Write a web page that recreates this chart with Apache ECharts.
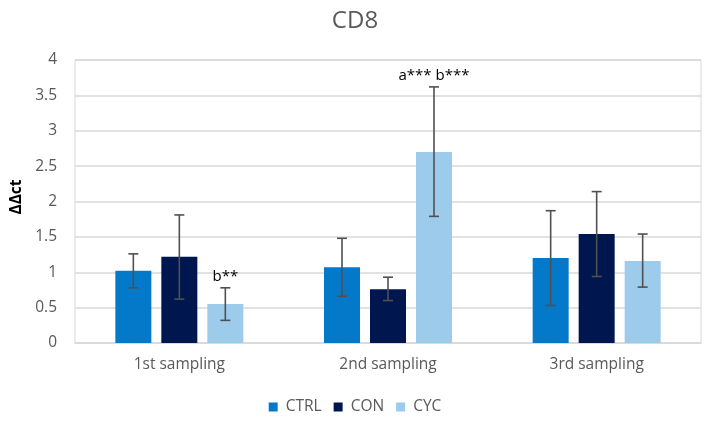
<!DOCTYPE html>
<html>
<head>
<meta charset="utf-8">
<script src="https://cdn.jsdelivr.net/npm/echarts@6/dist/echarts.min.js"></script>
<style>
  html, body { margin: 0; padding: 0; background: #fff; }
  #chart { width: 710px; height: 424px; }
</style>
</head>
<body>
<div id="chart"></div>
<script>
const categories = ['1st sampling', '2nd sampling', '3rd sampling'];
const seriesNames = ['CTRL', 'CON', 'CYC'];
const colors = ['#0579c9', '#00164f', '#9ccbeb'];

const ctrlValues = [1.02, 1.07, 1.20];
const conValues = [1.22, 0.76, 1.54];
const cycValues = [0.55, 2.70, 1.16];

const ctrlLow = [0.78, 0.66, 0.53];
const ctrlHigh = [1.26, 1.48, 1.87];
const conLow = [0.62, 0.60, 0.94];
const conHigh = [1.81, 0.93, 2.14];
const cycLow = [0.32, 1.79, 0.79];
const cycHigh = [0.78, 3.62, 1.54];

const ctrlNotes = ['', '', ''];
const conNotes = ['', '', ''];
const cycNotes = ['b**', 'a*** b***', ''];

const yTicks = [0, 0.5, 1, 1.5, 2, 2.5, 3, 3.5, 4];

const values = [ctrlValues, conValues, cycValues];
const lows = [ctrlLow, conLow, cycLow];
const highs = [ctrlHigh, conHigh, cycHigh];
const notes = [ctrlNotes, conNotes, cycNotes];

const barWidth = 36;
const barGapPx = 10;
const font = '"Open Sans", Lato, sans-serif';

const chart = echarts.init(document.getElementById('chart'));

const barSeries = seriesNames.map((name, i) => ({
  name: name,
  type: 'bar',
  data: values[i],
  barWidth: barWidth,
  barGap: (barGapPx / barWidth * 100) + '%',
  itemStyle: { color: colors[i] },
  z: 2
}));

// error bars drawn next to each bar, plus significance notes on top
const errSeries = seriesNames.map((name, i) => ({
  type: 'custom',
  name: name + '-err',
  data: categories.map((c, k) => [k, lows[i][k], highs[i][k]]),
  z: 5,
  silent: true,
  renderItem: function (params, api) {
    const k = api.value(0);
    const lo = api.coord([k, api.value(1)]);
    const hi = api.coord([k, api.value(2)]);
    const x = lo[0] + (i - 1) * (barWidth + barGapPx);
    const cap = 5;
    const style = { stroke: '#505050', lineWidth: 1.6 };
    const children = [
      { type: 'line', shape: { x1: x, y1: lo[1], x2: x, y2: hi[1] }, style: style },
      { type: 'line', shape: { x1: x - cap, y1: lo[1], x2: x + cap, y2: lo[1] }, style: style },
      { type: 'line', shape: { x1: x - cap, y1: hi[1], x2: x + cap, y2: hi[1] }, style: style }
    ];
    const note = notes[i][k];
    if (note) {
      children.push({
        type: 'text',
        style: {
          text: note, x: x, y: hi[1] - 4,
          align: 'center', verticalAlign: 'bottom',
          fill: '#000', font: '15px ' + font
        }
      });
    }
    return { type: 'group', children: children };
  }
}));

chart.setOption({
  animation: false,
  title: {
    text: 'CD8',
    left: 350,
    textAlign: 'center',
    top: 4,
    textStyle: { color: '#595959', fontSize: 24, fontWeight: 'normal', fontFamily: font }
  },
  legend: {
    data: seriesNames,
    bottom: 4,
    left: 'center',
    itemWidth: 9,
    itemHeight: 9,
    itemGap: 12,
    icon: 'rect',
    textStyle: { color: '#595959', fontSize: 15.5, fontFamily: font, padding: [0, 0, 0, 3] }
  },
  grid: {
    left: 75, right: 9, top: 60, bottom: 81,
    show: true,
    borderColor: '#d3dbe6',
    borderWidth: 1
  },
  xAxis: {
    type: 'category',
    data: categories,
    axisTick: { show: false },
    axisLine: { lineStyle: { color: '#d9d9d9', width: 1.5 } },
    axisLabel: { color: '#595959', fontSize: 15.5, fontFamily: font, margin: 14 }
  },
  yAxis: {
    type: 'value',
    min: yTicks[0],
    max: yTicks[yTicks.length - 1],
    interval: yTicks[1] - yTicks[0],
    name: 'ΔΔct',
    nameLocation: 'middle',
    nameGap: 50,
    nameRotate: 90,
    nameTextStyle: { color: '#000', fontSize: 15.5, fontWeight: 'bold', fontFamily: font, padding: [0, 0, 0, 9] },
    axisLine: { show: false },
    axisTick: { show: false },
    splitLine: { lineStyle: { color: '#d9d9d9', width: 1.5 } },
    axisLabel: { color: '#595959', fontSize: 15.5, fontFamily: font, margin: 18 }
  },
  series: barSeries.concat(errSeries)
});
</script>
</body>
</html>
